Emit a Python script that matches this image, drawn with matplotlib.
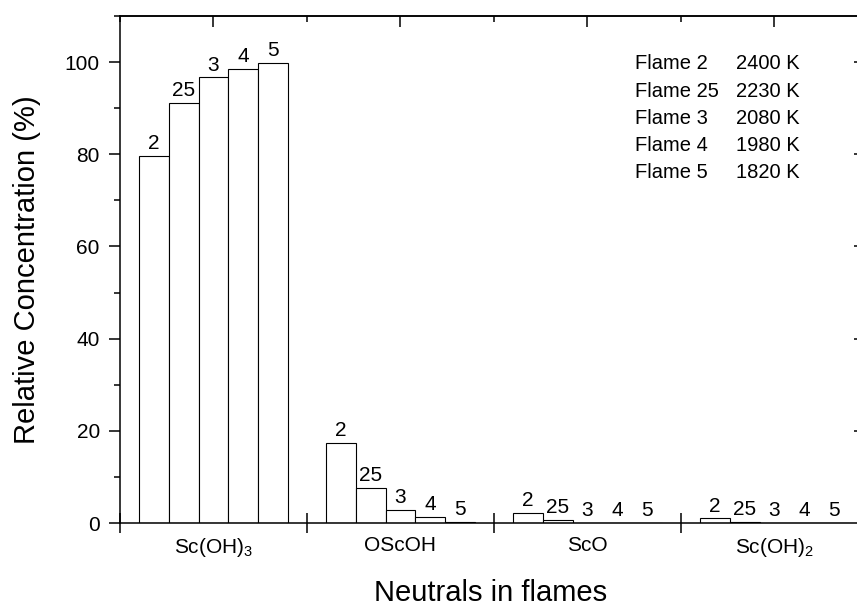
import matplotlib
matplotlib.use('Agg')
import matplotlib.pyplot as plt
import numpy as np
from matplotlib.ticker import MultipleLocator, FixedLocator

plt.rcParams['font.family'] = ['Liberation Sans', 'DejaVu Sans']
plt.rcParams['mathtext.fontset'] = 'custom'
plt.rcParams['mathtext.rm'] = 'Liberation Sans'
plt.rcParams['mathtext.default'] = 'rm'

species = ['Sc(OH)$_3$', 'OScOH', 'ScO', 'Sc(OH)$_2$']
flames = ['2', '25', '3', '4', '5']
temps = ['2400 K', '2230 K', '2080 K', '1980 K', '1820 K']

# relative concentration (%) per flame (2, 25, 3, 4, 5)
sc_oh3 = [79.6, 91.1, 96.7, 98.5, 99.8]
oscoh = [17.4, 7.6, 2.8, 1.3, 0.2]
sco = [2.2, 0.7, 0.1, 0.05, 0.02]
sc_oh2 = [1.0, 0.3, 0.1, 0.05, 0.02]
data = [sc_oh3, oscoh, sco, sc_oh2]

fig = plt.figure(figsize=(8.57, 6.09), dpi=100)
ax = fig.add_axes([0.140, 0.1412, 0.8647, 0.8325])

x = np.arange(1, len(species) + 1)
w = 0.159
for k, fl in enumerate(flames):
    vals = [d[k] for d in data]
    xb = x + (k - 2) * w
    ax.bar(xb, vals, width=w, facecolor='white', edgecolor='black', linewidth=0.8)
    for xi, v in zip(xb, vals):
        ax.annotate(fl, (xi, v), xytext=(0, 2), textcoords='offset points',
                    ha='center', va='bottom', fontsize=15)

# flame temperature list
for j in range(len(flames)):
    yy = 99.6 - 5.87 * j
    ax.text(3.254, yy, 'Flame ' + flames[j], va='center', fontsize=14.5)
    ax.text(4.136, yy, temps[j], va='center', ha='right', fontsize=14.5)

ax.set_xlim(0.5, 4.463)
ax.set_ylim(0, 110)

ax.set_xticks(x)
ax.set_xticklabels(species, fontsize=15)
ax.xaxis.set_minor_locator(FixedLocator([0.5, 1.5, 2.5, 3.5]))
ax.tick_params(axis='x', which='major', length=0, pad=9)
ax.tick_params(axis='x', which='minor', direction='inout', length=14, width=1.1)

ax.yaxis.set_major_locator(MultipleLocator(20))
ax.yaxis.set_minor_locator(MultipleLocator(10))
ax.tick_params(axis='y', which='major', direction='out', length=8, width=1.1,
               labelsize=15, pad=6.5)
ax.tick_params(axis='y', which='minor', direction='out', length=4.3, width=1.1)

for s in ax.spines.values():
    s.set_linewidth(1.1)

top = ax.secondary_xaxis('top')
top.set_xticks(x)
top.xaxis.set_minor_locator(FixedLocator([0.5, 1.5, 2.5, 3.5]))
top.tick_params(which='major', direction='in', length=8, width=1.1, labeltop=False)
top.tick_params(which='minor', direction='in', length=4.3, width=1.1)
top.spines['top'].set_linewidth(1.1)

right = ax.secondary_yaxis('right')
right.set_yticks([20, 40, 60, 80, 100])
right.tick_params(direction='in', length=5, width=1.1, labelright=False)
right.spines['right'].set_linewidth(1.1)

ax.set_xlabel('Neutrals in flames', fontsize=21, labelpad=15)
ax.set_ylabel('Relative Concentration (%)', fontsize=21, labelpad=17)

fig.savefig('out.png', dpi=100)
